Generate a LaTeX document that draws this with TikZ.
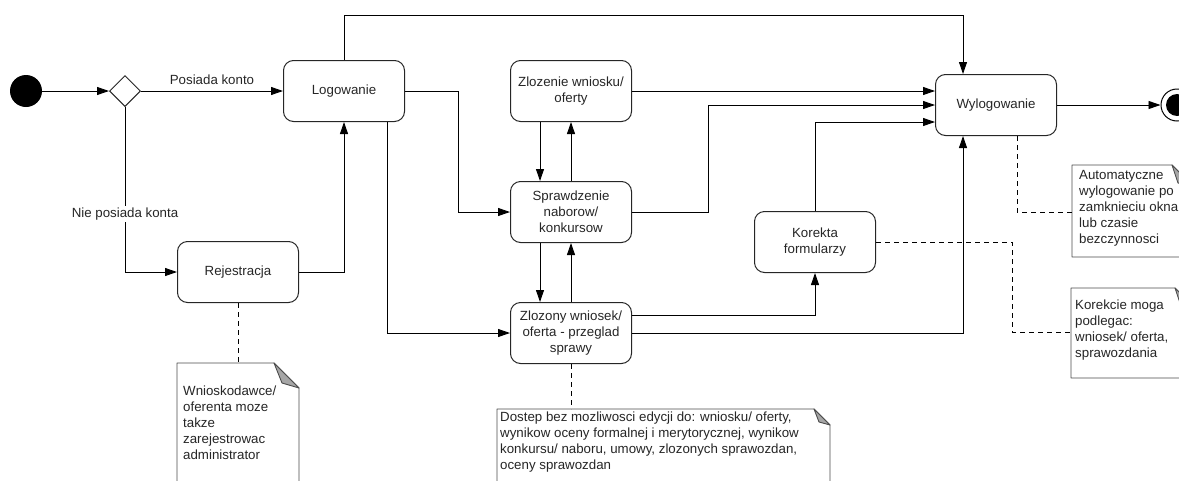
\documentclass[tikz,border=0pt]{standalone}
\usepackage{fontspec}
\setmainfont{Liberation Sans}
\usetikzlibrary{arrows.meta,calc,shapes.geometric}
\begin{document}
\begin{tikzpicture}[x=1pt,y=-1pt,
  every node/.style={font=\fontsize{13.3}{16}\selectfont},
  state/.style={draw=black!85, line width=1pt, rounded corners=10pt, minimum width=121pt, minimum height=61pt, align=center, inner sep=2pt, text=black!85},
  arr/.style={line width=0.9pt, -{Triangle[length=12pt,width=8pt]}},
  notelink/.style={line width=0.8pt, dash pattern=on 5pt off 4pt},
  notebox/.style={draw=black!70, line width=0.9pt, fill=white, line join=round},
  flap/.style={draw=black!70, line width=0.9pt, fill=black!35, line join=round},
  notetext/.style={align=left, anchor=north west, inner sep=0pt, text=black!85}
]
\clip (0,0) rectangle (1179,480);

% states
\node[circle, fill=black, minimum size=32pt, inner sep=0pt] (start) at (26,91) {};
\node[draw=black!85, diamond, line width=1pt, minimum size=31pt, inner sep=0pt, fill=white] (dia) at (125,91) {};
\node[state] (log) at (344,91) {Logowanie};
\node[state] (rej) at (238,272) {Rejestracja};
\node[state] (zw) at (571,91) {Zlozenie wniosku/\\oferty};
\node[state] (spr) at (571,212) {Sprawdzenie\\naborow/\\konkursow};
\node[state] (zn) at (571,333) {Zlozony wniosek/\\oferta - przeglad\\sprawy};
\node[state] (kor) at (815,242) {Korekta\\formularzy};
\node[state] (wyl) at (996,105) {Wylogowanie};
\node[circle, draw=black, line width=1pt, minimum size=32pt, inner sep=0pt] (end) at (1177,105) {};
\node[circle, fill=black, minimum size=22pt, inner sep=0pt] (endin) at (1177,105) {};

% transitions
\draw[arr] (start) -- (dia);
\draw[arr] (dia.east) -- node[above=3pt, text=black!85]{Posiada konto} (log.west);
\draw[arr] (dia.south) |- node[pos=0.325, fill=white, inner sep=2pt, text=black!85]{Nie posiada konta} (rej.west);
\draw[arr] (rej.east) -| (log.south);
\draw[arr] (log.north) -- ++(0,-45) -| ([xshift=-33pt]wyl.north);
\draw[arr] (log.east) -- ++(53,0) |- (spr.west);
\draw[arr] ([xshift=43pt]log.south) |- (zn.west);
\draw[arr] ([xshift=-31pt]zw.south) -- ([xshift=-31pt]spr.north);
\draw[arr] (spr.north) -- (zw.south);
\draw[arr] ([xshift=-31pt]spr.south) -- ([xshift=-31pt]zn.north);
\draw[arr] (zn.north) -- (spr.south);
\draw[arr] (zw.east) -- (zw.east -| wyl.west);
\draw[arr] (spr.east) -- ++(76,0) |- (wyl.west);
\draw[arr] (kor.north) |- ([yshift=-17pt]wyl.west);
\draw[arr] ([yshift=18pt]zn.east) -| (kor.south);
\draw[arr] (zn.east) -| ([xshift=-33pt]wyl.south);
\draw[arr] (wyl.east) -- (end.west);

% note 1
\draw[notebox] (1072,165) -- (1172,165) -- (1194,187) -- (1194,257) -- (1072,257) -- cycle;
\draw[flap] (1172,165) -- (1194,187) -- (1178,183) -- cycle;
\coordinate (n1) at (1072,212);
\node[notetext] (t1) at (1079,170) {Automatyczne\\wylogowanie po\\zamknieciu okna\\lub czasie\\bezczynnosci};
\draw[notelink] ([xshift=21pt]wyl.south) |- (n1);

% note 2
\draw[notebox] (1071,288) -- (1175,288) -- (1197,310) -- (1197,378) -- (1071,378) -- cycle;
\draw[flap] (1175,288) -- (1197,310) -- (1181,306) -- cycle;
\coordinate (n2) at (1071,332);
\node[notetext] (t2) at (1075,300) {Korekcie moga\\podlegac:\\wniosek/ oferta,\\sprawozdania};
\draw[notelink] (kor.east) -- ++(136,0) |- (n2);

% note 3
\draw[notebox] (177,363) -- (274,363) -- (299,388) -- (299,500) -- (177,500) -- cycle;
\draw[flap] (274,363) -- (299,388) -- (282,383) -- cycle;
\coordinate (n3) at (238,363);
\node[notetext] (t3) at (183,386) {Wnioskodawce/\\oferenta moze\\takze\\zarejestrowac\\administrator};
\draw[notelink] (rej.south) -- (n3);

% note 4
\draw[notebox] (497,409) -- (814,409) -- (830,425) -- (830,500) -- (497,500) -- cycle;
\draw[flap] (814,409) -- (830,425) -- (819,422) -- cycle;
\coordinate (n4) at (571,409);
\node[notetext] (t4) at (500,412) {Dostep bez mozliwosci edycji do: wniosku/ oferty,\\wynikow oceny formalnej i merytorycznej, wynikow\\konkursu/ naboru, umowy, zlozonych sprawozdan,\\oceny sprawozdan};
\draw[notelink] (zn.south) -- (n4);
\end{tikzpicture}
\end{document}
